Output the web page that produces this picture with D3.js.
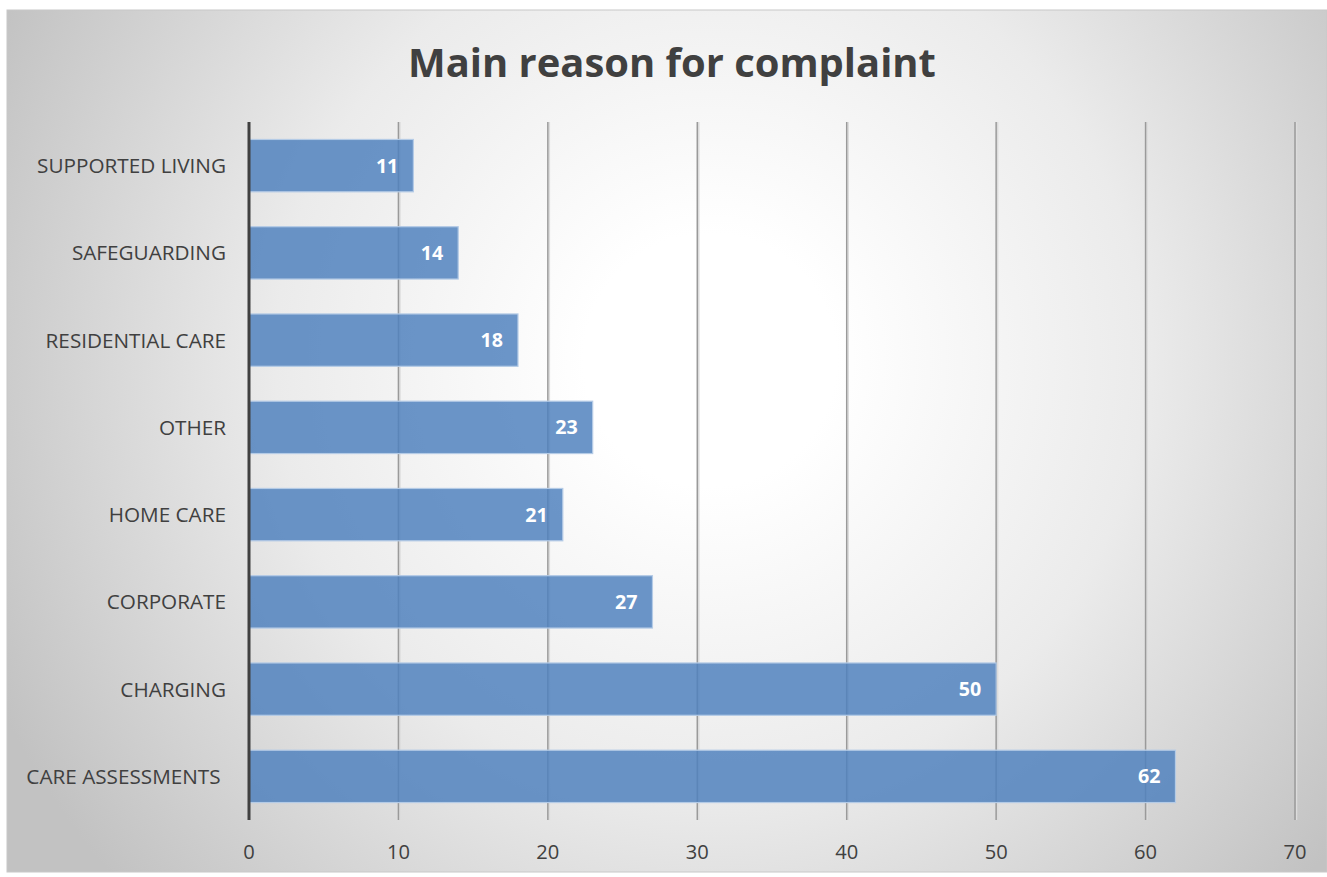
<!DOCTYPE html>
<html>
<head>
<meta charset="utf-8">
<script src="https://cdn.jsdelivr.net/npm/d3@7"></script>
<style>
html,body{margin:0;padding:0;background:#fff;}
svg{display:block;}
text{white-space:pre;}
</style>
</head>
<body>
<svg id="chart" width="1327" height="877"></svg>
<script>
const categories = ["SUPPORTED LIVING","SAFEGUARDING","RESIDENTIAL CARE","OTHER","HOME CARE","CORPORATE","CHARGING","CARE ASSESSMENTS "];
const values = [11,14,18,23,21,27,50,62];
const tickValues = [0,10,20,30,40,50,60,70];
const title = "Main reason for complaint";

const W = 1327, H = 877;
const svg = d3.select("#chart");
const font = "'Open Sans', sans-serif";

// size a font so that a sample string has a target width
function fitSize(sample, targetW, weight) {
  const t = svg.append("text").attr("font-family",font).attr("font-weight",weight)
    .attr("font-size",100).text(sample);
  const w = t.node().getComputedTextLength();
  t.remove();
  return 100 * targetW / w;
}

const defs = svg.append("defs");
const rg = defs.append("radialGradient").attr("id","bg")
  .attr("gradientUnits","userSpaceOnUse")
  .attr("cx",710).attr("cy",360).attr("r",790)
  .attr("fx",710).attr("fy",360);
rg.append("stop").attr("offset","0.16").attr("stop-color","#ffffff");
rg.append("stop").attr("offset","0.55").attr("stop-color","#ebebeb");
rg.append("stop").attr("offset","1").attr("stop-color","#c2c2c2");

svg.append("rect").attr("x",7).attr("y",10).attr("width",W-7).attr("height",862)
  .attr("fill","url(#bg)").attr("stroke","#c8c8c8").attr("stroke-width",1);

const m = {left:249, right:1295, top:122, bottom:820};
const x = d3.scaleLinear().domain([0,70]).range([m.left,m.right]);
const y = d3.scaleBand().domain(categories).range([m.top,m.bottom]).paddingInner(0.4).paddingOuter(0.2);

const titleSize = fitSize(title, 528, "bold");
const labelSize = fitSize("SUPPORTED LIVING", 189, "normal");
const tickSize = fitSize("70", 23, "normal");
const valSize = fitSize("62", 22.5, "bold");

svg.append("text").attr("x",672).attr("y",77).attr("text-anchor","middle")
  .attr("font-family",font).attr("font-weight","bold").attr("font-size",titleSize)
  .attr("fill","#404040").text(title);

// gridlines
const grid = svg.append("g");
grid.selectAll("line.s").data(tickValues.slice(1)).join("line")
  .attr("x1",d=>x(d)+1.5).attr("x2",d=>x(d)+1.5).attr("y1",m.top).attr("y2",m.bottom)
  .attr("stroke","#dcdcdc").attr("stroke-width",1.5);
grid.selectAll("line.g").data(tickValues.slice(1)).join("line")
  .attr("x1",d=>x(d)).attr("x2",d=>x(d)).attr("y1",m.top).attr("y2",m.bottom)
  .attr("stroke","#9a9a9a").attr("stroke-width",1.5);

// bars
svg.append("g").selectAll("rect").data(categories).join("rect")
  .attr("x",x(0)).attr("y",d=>y(d))
  .attr("width",(d,i)=>x(values[i])-x(0)).attr("height",y.bandwidth())
  .attr("fill","rgb(79,129,189)").attr("fill-opacity",0.84)
  .attr("stroke","#b4cbe6").attr("stroke-width",1.2);

// value labels
svg.append("g").selectAll("text").data(categories).join("text")
  .attr("x",(d,i)=>x(values[i])-15).attr("y",d=>y(d)+y.bandwidth()/2)
  .attr("dy","0.36em").attr("text-anchor","end")
  .attr("font-family",font).attr("font-weight","bold").attr("font-size",valSize)
  .attr("fill","#ffffff").text((d,i)=>values[i]);

// y axis line
svg.append("line").attr("x1",x(0)).attr("x2",x(0)).attr("y1",m.top).attr("y2",m.bottom)
  .attr("stroke","#404040").attr("stroke-width",3);

// category labels
svg.append("g").selectAll("text").data(categories).join("text")
  .attr("x",226).attr("y",d=>y(d)+y.bandwidth()/2)
  .attr("dy","0.36em").attr("text-anchor","end")
  .attr("font-family",font).attr("font-size",labelSize)
  .attr("fill","#404040").text(d=>d);

// x tick labels
svg.append("g").selectAll("text").data(tickValues).join("text")
  .attr("x",d=>x(d)).attr("y",852).attr("dy","0.36em").attr("text-anchor","middle")
  .attr("font-family",font).attr("font-size",tickSize)
  .attr("fill","#404040").text(d=>d);
</script>
</body>
</html>
